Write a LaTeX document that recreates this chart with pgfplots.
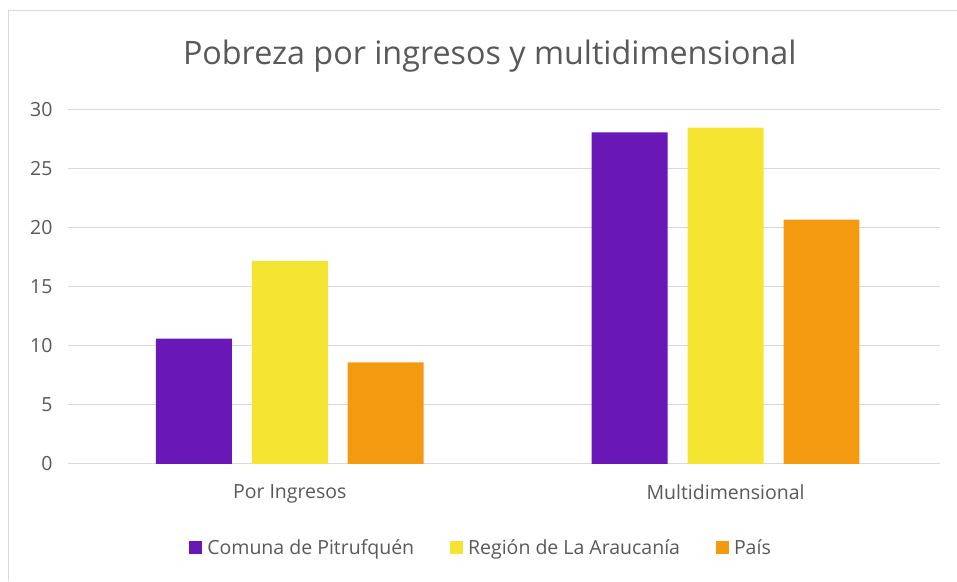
\documentclass[border=0pt]{standalone}
\usepackage{pgfplots}
\pgfplotsset{compat=1.18}
\usepackage{fontspec}
\setmainfont{Open Sans}
\definecolor{cPur}{HTML}{6A17B8}
\definecolor{cYel}{HTML}{F5E532}
\definecolor{cOra}{HTML}{F39A11}
\definecolor{txt}{HTML}{595959}
\definecolor{grd}{HTML}{D9D9D9}
\begin{document}
\begin{tikzpicture}[x=1pt,y=1pt]
\path[fill=white] (0,0) rectangle (957,581);
\draw[grd,line width=1pt] (9,0) -- (9,570) -- (957,570);
\node[text=txt,font=\fontsize{32.3}{38}\selectfont] at (490,525) {Pobreza por ingresos y multidimensional};
\begin{axis}[
  at={(68pt,117pt)}, anchor=south west,
  scale only axis, width=872pt, height=354pt,
  ymin=0, ymax=30, ytick={0,5,...,30},
  xmin=-0.509, xmax=1.491,
  xtick={0,1}, xticklabels={Por Ingresos,Multidimensional},
  axis line style={draw=none},
  tick style={draw=none},
  ymajorgrids, grid style={grd,line width=1pt},
  ybar, bar width=76pt,
  ticklabel style={text=txt,font=\fontsize{19.5}{23}\selectfont},
  /pgf/number format/assume math mode=true,
  yticklabel style={xshift=-12pt},
  xticklabel style={yshift=-13pt},
  legend columns=3,
  legend style={at={(0.474,-0.237)},anchor=center,draw=none,fill=none,
    font=\fontsize{19.5}{23}\selectfont,text=txt,
    /tikz/every even column/.append style={column sep=34pt}},
  legend image code/.code={\fill[#1] (0pt,-6pt) rectangle (13pt,7pt);\path (16pt,0pt);},
  legend cell align=left,
]
\addplot[fill=cPur,draw=none,bar shift=-96pt] coordinates {(0,10.6) (1,28.1)};
\addplot[fill=cYel,draw=none,bar shift=0pt] coordinates {(0,17.2) (1,28.5)};
\addplot[fill=cOra,draw=none,bar shift=96pt] coordinates {(0,8.6) (1,20.7)};
\legend{Comuna de Pitrufquén,Región de La Araucanía,País}
\end{axis}
\end{tikzpicture}
\end{document}
